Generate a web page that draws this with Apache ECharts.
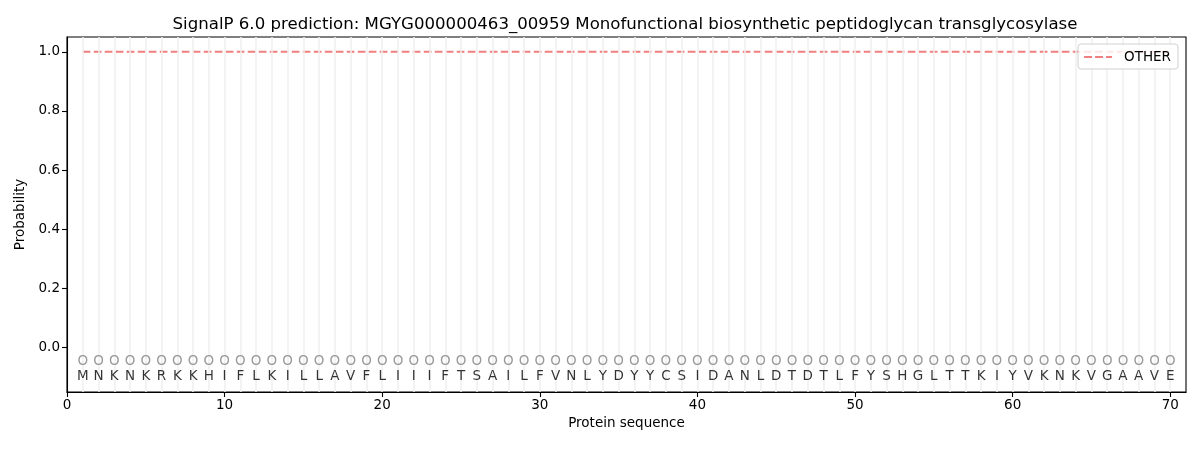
<!DOCTYPE html>
<html>
<head>
<meta charset="utf-8">
<script src="https://cdn.jsdelivr.net/npm/echarts@6/dist/echarts.min.js"></script>
<style>html,body{margin:0;padding:0;background:#fff;}#c{width:1200px;height:450px;}</style>
</head>
<body>
<div id="c"></div>
<script>
const sequence = ["M","N","K","N","K","R","K","K","H","I","F","L","K","I","L","L","A","V","F","L","I","I","I","F","T","S","A","I","L","F","V","N","L","Y","D","Y","Y","C","S","I","D","A","N","L","D","T","D","T","L","F","Y","S","H","G","L","T","T","K","I","Y","V","K","N","K","V","G","A","A","V","E"];
const positions = sequence.map((_, i) => i + 1);
const otherProb = [1,1,1,1,1,1,1,1,1,1,1,1,1,1,1,1,1,1,1,1,1,1,1,1,1,1,1,1,1,1,1,1,1,1,1,1,1,1,1,1,1,1,1,1,1,1,1,1,1,1,1,1,1,1,1,1,1,1,1,1,1,1,1,1,1,1,1,1,1,1];
const labels = sequence.map(() => "O");
const yTicks = [0, 0.2, 0.4, 0.6, 0.8, 1.0];
const xTicks = [0, 10, 20, 30, 40, 50, 60, 70];

const font = "DejaVu Sans";
const chart = echarts.init(document.getElementById('c'), null, {renderer: 'canvas'});
chart.setOption({
  animation: false,
  backgroundColor: '#ffffff',
  textStyle: {fontFamily: font},
  title: {
    text: 'SignalP 6.0 prediction: MGYG000000463_00959 Monofunctional biosynthetic peptidoglycan transglycosylase',
    left: 620, top: 11, textAlign: 'center',
    textStyle: {fontFamily: font, fontSize: 16.6, fontWeight: 'normal', color: '#000'}
  },
  legend: {
    right: 22, top: 44, z: 20,
    data: ['OTHER'],
    icon: 'path://M0,0h8v2h-8z M11,0h8v2h-8z M22,0h6v2h-6z',
    itemWidth: 28, itemHeight: 2,
    padding: [6, 7, 5, 6],
    borderColor: '#d0d0d0', borderWidth: 1, borderRadius: 3,
    backgroundColor: 'rgba(255,255,255,0.8)',
    textStyle: {fontFamily: font, fontSize: 13.5, color: '#000', padding: [0, 0, 0, 7]}
  },
  grid: {left: 67, right: 14, top: 37, bottom: 58, containLabel: false,
    show: true, borderColor: '#000', borderWidth: 1.1, backgroundColor: 'transparent'},
  xAxis: {
    type: 'value', min: 0, max: 71, interval: 10,
    name: 'Protein sequence', nameLocation: 'middle', nameGap: 22,
    nameTextStyle: {fontFamily: font, fontSize: 13.5, color: '#000'},
    axisLine: {show: true, onZero: false, lineStyle: {color: '#000', width: 1.1}},
    axisTick: {show: true, length: 5, lineStyle: {color: '#000', width: 1.1}, customValues: xTicks},
    axisLabel: {fontFamily: font, fontSize: 13.5, color: '#000', margin: 6, customValues: xTicks},
    splitLine: {show: false}
  },
  yAxis: {
    type: 'value', min: -0.15, max: 1.05,
    name: 'Probability', nameLocation: 'middle', nameGap: 38,
    nameTextStyle: {fontFamily: font, fontSize: 13.5, color: '#000'},
    axisLine: {show: true, onZero: false, lineStyle: {color: '#000', width: 1.1}},
    axisTick: {show: true, length: 5, lineStyle: {color: '#000', width: 1.1}, customValues: yTicks},
    axisLabel: {fontFamily: font, fontSize: 13.5, color: '#000', margin: 7, customValues: yTicks,
      formatter: v => v.toFixed(1)},
    splitLine: {show: false}
  },
  series: [
    {
      name: 'grid', type: 'line', data: [], silent: true,
      markLine: {
        silent: true, symbol: ['none', 'none'], label: {show: false},
        lineStyle: {color: '#efefef', width: 1.5, type: 'solid'},
        data: positions.map(p => ({xAxis: p}))
      }
    },
    {
      name: 'OTHER', type: 'line', symbol: 'none', z: 3,
      data: positions.map((p, i) => [p, otherProb[i]]),
      lineStyle: {color: '#f08080', width: 2, type: [7.7, 3.3]},
      itemStyle: {color: '#f08080'}
    },
    {
      name: 'marks', type: 'scatter', symbolSize: 0, silent: true, z: 6,
      data: positions.map((p, i) => [p, -0.047, labels[i]]),
      label: {show: true, position: 'inside', formatter: d => d.value[2],
        fontFamily: font, fontSize: 13.5, color: '#808080'}
    },
    {
      name: 'seq', type: 'scatter', symbolSize: 0, silent: true, z: 6,
      data: positions.map((p, i) => [p, -0.098, sequence[i]]),
      label: {show: true, position: 'inside', formatter: d => d.value[2],
        fontFamily: font, fontSize: 13.5, color: '#000'}
    }
  ]
});
</script>
</body>
</html>
